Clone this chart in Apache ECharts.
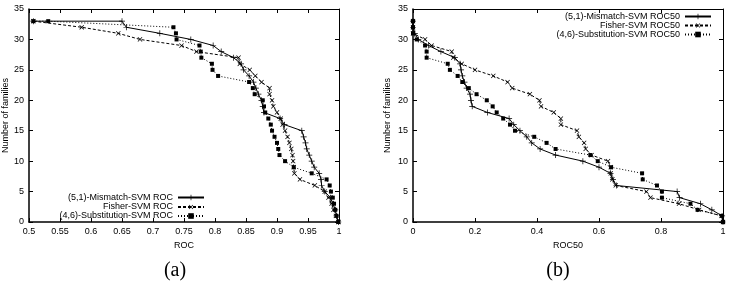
<!DOCTYPE html>
<html>
<head>
<meta charset="utf-8">
<script src="https://cdn.jsdelivr.net/npm/echarts@6/dist/echarts.min.js"></script>
<style>
html,body{margin:0;padding:0;background:#fff;}
#c{width:730px;height:284px;}
</style>
</head>
<body>
<div id="c"></div>
<script>
// ---------- data ----------
// Panel (a): ROC score vs number of families
const rocMismatchX = [0.507,0.65,0.657,0.711,0.761,0.797,0.81,0.83,0.842,0.846,0.855,0.862,0.866,0.870,0.875,0.877,0.879,0.905,0.912,0.94,0.943,0.946,0.948,0.952,0.956,0.96,0.968,0.971,0.972,0.977,0.986,0.99,0.994,0.996,0.999];
const rocMismatchY = [33,33,32,31,30,29,28,27,26,25,24,23,22,21,20,19,18,17,16,15,14,13,12,11,10,9,8,7,6,5,4,3,2,1,0];

const rocFisherX = [0.507,0.585,0.644,0.679,0.746,0.770,0.838,0.840,0.856,0.865,0.875,0.888,0.888,0.892,0.894,0.9,0.906,0.909,0.913,0.917,0.92,0.923,0.925,0.926,0.927,0.928,0.937,0.961,0.977,0.983,0.988,0.991,0.995,0.999];
const rocFisherY = [33,32,31,30,29,28,27,26,25,24,23,22,21,20,19,18,17,16,15,14,13,12,11,10,9,8,7,6,5,4,3,2,1,0];

const rocSubstX = [0.507,0.531,0.733,0.737,0.738,0.775,0.777,0.778,0.795,0.796,0.805,0.855,0.861,0.864,0.877,0.879,0.881,0.886,0.89,0.892,0.896,0.9,0.902,0.904,0.913,0.927,0.956,0.98,0.985,0.987,0.99,0.992,0.994,0.996,0.999];
const rocSubstY = [33,33,32,31,30,29,28,27,26,25,24,23,22,21,20,19,18,17,16,15,14,13,12,11,10,9,8,7,6,5,4,3,2,1,0];

// Panel (b): ROC50 score vs number of families
const roc50MismatchX = [0,0,0.006,0.017,0.05,0.09,0.135,0.152,0.155,0.159,0.166,0.173,0.184,0.187,0.191,0.24,0.31,0.325,0.345,0.367,0.383,0.41,0.46,0.548,0.6,0.637,0.645,0.656,0.852,0.86,0.927,0.964,0.997,1.0];
const roc50MismatchY = [33,32,31,30,29,28,27,26,25,24,23,22,21,20,19,18,17,16,15,14,13,12,11,10,9,8,7,6,5,4,3,2,1,0];

const roc50FisherX = [0,0,0,0.039,0.06,0.125,0.13,0.157,0.2,0.259,0.305,0.32,0.377,0.408,0.413,0.454,0.477,0.477,0.529,0.535,0.552,0.557,0.576,0.629,0.638,0.638,0.643,0.654,0.753,0.766,0.858,0.923,0.995,1.0];
const roc50FisherY = [33,32,31,30,29,28,27,26,25,24,23,22,21,20,19,18,17,16,15,14,13,12,11,10,9,8,7,6,5,4,3,2,1,0];

const roc50SubstX = [0,0,0,0.012,0.039,0.044,0.044,0.112,0.119,0.144,0.159,0.18,0.205,0.238,0.257,0.27,0.291,0.313,0.329,0.391,0.431,0.46,0.572,0.596,0.639,0.739,0.741,0.787,0.803,0.803,0.895,0.918,0.997,1.0];
const roc50SubstY = [33,32,31,30,29,28,27,26,25,24,23,22,21,20,19,18,17,16,15,14,13,12,11,10,9,8,7,6,5,4,3,2,1,0];

const seriesNamesA = ['(5,1)-Mismatch-SVM ROC','Fisher-SVM ROC','(4,6)-Substitution-SVM ROC'];
const seriesNamesB = ['(5,1)-Mismatch-SVM ROC50','Fisher-SVM ROC50','(4,6)-Substitution-SVM ROC50'];
const xTitleA = 'ROC', xTitleB = 'ROC50', yTitle = 'Number of families';
const panelLabels = ['(a)','(b)'];

// ---------- helpers ----------
const zip = (xs, ys) => xs.map((x, i) => [x, ys[i]]);
const FONT = 'Liberation Sans';
const PLUS = 'path://M4.4,0H5.6V10H4.4ZM0,4.4H10V5.6H0Z';
const styles = [
  {symbol: PLUS, symbolSize: 6, symbolRotate: 0, line: 'solid'},
  {symbol: PLUS, symbolSize: 6, symbolRotate: 45, line: [3, 2]},
  {symbol: 'rect', symbolSize: 4, symbolRotate: 0, line: [1, 2]}
];
const fmt = v => String(+(+v).toFixed(2));

function mkX(grid, pos, min, interval, labels, name) {
  return {
    type: 'value', gridIndex: grid, position: pos, min: min, max: 1, interval: interval,
    axisLine: {show: true, onZero: false, lineStyle: {color: '#000', width: pos === 'bottom' ? 1.5 : 1}},
    axisTick: {show: true, inside: true, length: 4, lineStyle: {color: '#000', width: 1}},
    axisLabel: {show: labels, color: '#000', fontFamily: FONT, fontSize: 9, margin: 5, formatter: fmt},
    splitLine: {show: false},
    name: labels ? name : '', nameLocation: 'middle', nameGap: 18,
    nameTextStyle: {color: '#000', fontFamily: FONT, fontSize: 9}
  };
}
function mkY(grid, pos, labels, gap) {
  return {
    type: 'value', gridIndex: grid, position: pos, min: 0, max: 35, interval: 5,
    axisLine: {show: true, onZero: false, lineStyle: {color: '#000', width: pos === 'left' ? 1.5 : 1}},
    axisTick: {show: true, inside: true, length: 4, lineStyle: {color: '#000', width: 1}},
    axisLabel: {show: labels, color: '#000', fontFamily: FONT, fontSize: 9, margin: 5},
    splitLine: {show: false},
    name: labels ? yTitle : '', nameLocation: 'middle', nameGap: gap,
    nameTextStyle: {color: '#000', fontFamily: FONT, fontSize: 9}
  };
}
function mkSeries(name, data, k, xi, yi) {
  const s = styles[k];
  return {
    type: 'line', name: name, data: data, xAxisIndex: xi, yAxisIndex: yi,
    symbol: s.symbol, symbolSize: s.symbolSize, symbolRotate: s.symbolRotate,
    showSymbol: true, showAllSymbol: true, clip: false,
    lineStyle: {color: '#000', width: 1, type: s.line},
    itemStyle: {color: '#000', borderWidth: 0},
    emphasis: {disabled: true}
  };
}
function mkLegend(name, right, top) {
  return {
    data: [name], orient: 'vertical', align: 'right', right: right, top: top,
    padding: 0, itemWidth: 26, itemHeight: 7, selectedMode: false,
    textStyle: {color: '#000', fontFamily: FONT, fontSize: 9}
  };
}

const option = {
  animation: false,
  backgroundColor: '#fff',
  grid: [
    {left: 29, top: 9, width: 310, height: 213},
    {left: 413, top: 9, width: 310, height: 213}
  ],
  xAxis: [
    mkX(0, 'bottom', 0.5, 0.05, true, xTitleA),
    mkX(0, 'top', 0.5, 0.05, false, ''),
    mkX(1, 'bottom', 0, 0.2, true, xTitleB),
    mkX(1, 'top', 0, 0.2, false, '')
  ],
  yAxis: [
    mkY(0, 'left', true, 19),
    mkY(0, 'right', false, 0),
    mkY(1, 'left', true, 21),
    mkY(1, 'right', false, 0)
  ],
  legend: [
    mkLegend(seriesNamesA[0], 525, 193),
    mkLegend(seriesNamesA[1], 525, 202.5),
    mkLegend(seriesNamesA[2], 525, 211.5),
    mkLegend(seriesNamesB[0], 18, 12),
    mkLegend(seriesNamesB[1], 18, 21),
    mkLegend(seriesNamesB[2], 18, 30)
  ],
  series: [
    mkSeries(seriesNamesA[0], zip(rocMismatchX, rocMismatchY), 0, 0, 0),
    mkSeries(seriesNamesA[1], zip(rocFisherX, rocFisherY), 1, 0, 0),
    mkSeries(seriesNamesA[2], zip(rocSubstX, rocSubstY), 2, 0, 0),
    mkSeries(seriesNamesB[0], zip(roc50MismatchX, roc50MismatchY), 0, 2, 2),
    mkSeries(seriesNamesB[1], zip(roc50FisherX, roc50FisherY), 1, 2, 2),
    mkSeries(seriesNamesB[2], zip(roc50SubstX, roc50SubstY), 2, 2, 2)
  ],
  graphic: [
    {type: 'text', x: 175, y: 271, style: {text: panelLabels[0], font: '20px "Liberation Serif"', fill: '#000', align: 'center', verticalAlign: 'middle', textAlign: 'center', textVerticalAlign: 'middle'}},
    {type: 'text', x: 558, y: 271, style: {text: panelLabels[1], font: '20px "Liberation Serif"', fill: '#000', align: 'center', verticalAlign: 'middle', textAlign: 'center', textVerticalAlign: 'middle'}}
  ]
};

const chart = echarts.init(document.getElementById('c'), null, {renderer: 'canvas'});
chart.setOption(option);
</script>
</body>
</html>
